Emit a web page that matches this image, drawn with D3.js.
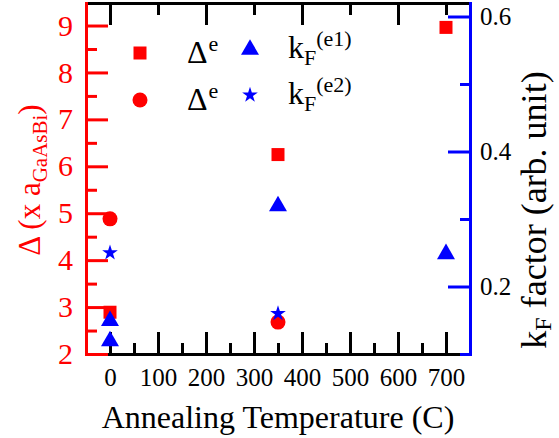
<!DOCTYPE html>
<html><head><meta charset="utf-8">
<script src="https://cdn.jsdelivr.net/npm/d3@7"></script>
<style>body{margin:0;background:#fff} svg{display:block}</style>
</head><body>
<script>
// ---- data ----
const squareTemps = [0, 350, 700];
const squareDelta = [2.89, 6.25, 8.96];
const circleTemps = [0, 350];
const circleDelta = [4.88, 2.68];
const triTemps = [0, 0, 350, 700];
const triKF = [0.153, 0.123, 0.323, 0.252];
const starTemps = [0, 350];
const starKF = [0.250, 0.160];
const xTickVals = [0, 100, 200, 300, 400, 500, 600, 700];
const xMinorBottom = [50, 150, 250, 350, 450, 550, 650];
const xMajorTop = [0, 200, 400, 600];
const xMinorTop = [100, 300, 500, 700];
const leftTickVals = [2, 3, 4, 5, 6, 7, 8, 9];
const leftMinor = [2.5, 3.5, 4.5, 5.5, 6.5, 7.5, 8.5];
const rightTickVals = [0.2, 0.4, 0.6];
const rightMinor = [0.1, 0.3, 0.5];

const W = 559, H = 438;
const L = 86, R = 470, T = 3, B = 354;
const RED = "#ff0000", BLUE = "#0000ff";

const svg = d3.select("body").append("svg").attr("width", W).attr("height", H);

const x = d3.scaleLinear().domain([-50, 750]).range([L, R]);
const yL = d3.scaleLinear().domain([2, 9.48]).range([B, T]);
const yR = d3.scaleLinear().domain([0.1, 0.62]).range([B, T]);

function styleAxis(g, color, fontSize) {
  g.attr("font-family", null).attr("font-size", fontSize);
  g.selectAll("path.domain").attr("stroke", color).attr("stroke-width", 3).attr("stroke-linecap", "square");
  g.selectAll(".tick line").attr("stroke", color).attr("stroke-width", 3);
  g.selectAll(".tick text").attr("fill", color);
}

// bottom axis
const gB = svg.append("g").attr("transform", `translate(0,${B})`)
  .call(d3.axisBottom(x).tickValues(xTickVals).tickSizeInner(-22).tickSizeOuter(0).tickPadding(14).tickFormat(d3.format("d")));
styleAxis(gB, "#000", 25);
const gBm = svg.append("g").attr("transform", `translate(0,${B})`)
  .call(d3.axisBottom(x).tickValues(xMinorBottom).tickSizeInner(-11).tickSizeOuter(0).tickFormat(""));
gBm.select("path.domain").remove();
styleAxis(gBm, "#000", 25);

// top axis
const gT = svg.append("g").attr("transform", `translate(0,${T})`)
  .call(d3.axisTop(x).tickValues(xMajorTop).tickSizeInner(-22).tickSizeOuter(0).tickFormat(""));
styleAxis(gT, "#000", 25);
const gTm = svg.append("g").attr("transform", `translate(0,${T})`)
  .call(d3.axisTop(x).tickValues(xMinorTop).tickSizeInner(-12).tickSizeOuter(0).tickFormat(""));
gTm.select("path.domain").remove();
styleAxis(gTm, "#000", 25);

// left axis (red)
const gL = svg.append("g").attr("transform", `translate(${L},0)`)
  .call(d3.axisLeft(yL).tickValues(leftTickVals).tickSizeInner(-22).tickSizeOuter(0).tickPadding(13).tickFormat(d3.format("d")));
styleAxis(gL, RED, 30);
const gLm = svg.append("g").attr("transform", `translate(${L},0)`)
  .call(d3.axisLeft(yL).tickValues(leftMinor).tickSizeInner(-11).tickSizeOuter(0).tickFormat(""));
gLm.select("path.domain").remove();
styleAxis(gLm, RED, 30);

// right axis (blue)
const gR = svg.append("g").attr("transform", `translate(${R},0)`)
  .call(d3.axisRight(yR).tickValues(rightTickVals).tickSizeInner(-22).tickSizeOuter(0).tickPadding(10).tickFormat(d3.format(".1f")));
styleAxis(gR, BLUE, 25);
gR.selectAll(".tick text").attr("fill", "#000");
const gRm = svg.append("g").attr("transform", `translate(${R},0)`)
  .call(d3.axisRight(yR).tickValues(rightMinor).tickSizeInner(-10).tickSizeOuter(0).tickFormat(""));
gRm.select("path.domain").remove();
styleAxis(gRm, BLUE, 25);

// symbols
const sqSym = d3.symbol(d3.symbolSquare, 169);
const ciSym = d3.symbol(d3.symbolCircle, 177);
const trSym = d3.symbol(d3.symbolTriangle, 140);
const stSym = d3.symbol(d3.symbolStar, 76);
const TRI_OFF = 2.6;

svg.append("g").selectAll("path").data(squareTemps.map((t, i) => [t, squareDelta[i]]))
  .join("path").attr("d", sqSym).attr("fill", RED)
  .attr("transform", d => `translate(${x(d[0])},${yL(d[1])})`);
svg.append("g").selectAll("path").data(circleTemps.map((t, i) => [t, circleDelta[i]]))
  .join("path").attr("d", ciSym).attr("fill", RED)
  .attr("transform", d => `translate(${x(d[0])},${yL(d[1])})`);
svg.append("g").selectAll("path").data(triTemps.map((t, i) => [t, triKF[i]]))
  .join("path").attr("d", trSym).attr("fill", BLUE)
  .attr("transform", d => `translate(${x(d[0])},${yR(d[1]) + TRI_OFF})`);
svg.append("g").selectAll("path").data(starTemps.map((t, i) => [t, starKF[i]]))
  .join("path").attr("d", stSym).attr("fill", BLUE)
  .attr("transform", d => `translate(${x(d[0])},${yR(d[1])})`);

// legend
const leg = svg.append("g");
leg.append("path").attr("d", sqSym).attr("fill", RED).attr("transform", "translate(140,53)");
leg.append("path").attr("d", ciSym).attr("fill", RED).attr("transform", "translate(140,100)");
leg.append("path").attr("d", trSym).attr("fill", BLUE).attr("transform", `translate(250,${47 + TRI_OFF})`);
leg.append("path").attr("d", stSym).attr("fill", BLUE).attr("transform", "translate(250,95)");

function deltaLabel(y) {
  const t = leg.append("text").attr("x", 187).attr("y", y).attr("font-size", 32).attr("fill", "#000");
  t.append("tspan").text("Δ");
  t.append("tspan").attr("font-size", 22).attr("dy", -12).attr("dx", 1).text("e");
}
function kLabel(y, sup) {
  const t = leg.append("text").attr("x", 288).attr("y", y).attr("font-size", 32).attr("fill", "#000");
  t.append("tspan").text("k");
  t.append("tspan").attr("font-size", 22).attr("dy", 7).text("F");
  t.append("tspan").attr("font-size", 22).attr("dy", -19).text(sup);
}
deltaLabel(63);
deltaLabel(110);
kLabel(58, "(e1)");
kLabel(104, "(e2)");

// axis titles
svg.append("text").attr("x", (L + R) / 2).attr("y", 428).attr("text-anchor", "middle")
  .attr("font-size", 32).attr("fill", "#000").text("Annealing Temperature (C)");

const lt = svg.append("text").attr("transform", "translate(40,180) rotate(-90)")
  .attr("text-anchor", "middle").attr("font-size", 31).attr("fill", RED);
lt.append("tspan").text("Δ (x a");
lt.append("tspan").attr("font-size", 21).attr("dy", 7).text("GaAsBi");
lt.append("tspan").attr("dy", -7).text(")");

const rt = svg.append("text").attr("transform", "translate(546,210) rotate(-90)")
  .attr("text-anchor", "middle").attr("font-size", 36).attr("fill", "#000");
rt.append("tspan").text("k");
rt.append("tspan").attr("font-size", 24).attr("dy", 5).text("F");
rt.append("tspan").attr("dy", -5).text(" factor (arb. unit)");

svg.selectAll("text").style("font-family", '"Liberation Serif"');
</script>
</body></html>
